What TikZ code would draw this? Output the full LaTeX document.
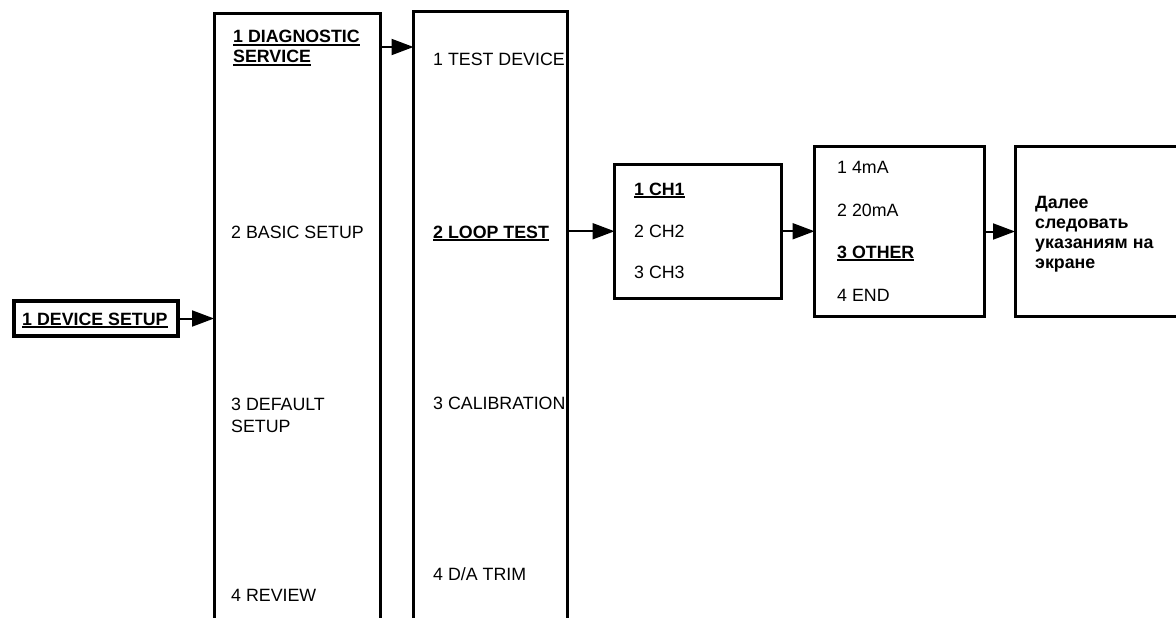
\documentclass[tikz,border=0pt]{standalone}
\usepackage{fontspec}
\setmainfont{Liberation Sans}
\usetikzlibrary{arrows.meta}
\newcommand\myul[1]{\setbox0\hbox{#1}\rlap{\rule[-3pt]{\wd0}{1.6pt}}\box0}
\tikzset{
  box/.style={draw, line width=3pt, inner sep=0pt, outer sep=0pt},
  txt/.style={anchor=base west, inner sep=0pt, font=\fontsize{17.8}{20}\selectfont},
  btxt/.style={txt, font=\fontsize{17.8}{20}\selectfont\bfseries},
  arr/.style={line width=2pt, -{Triangle[length=22pt,width=16pt]}}
}
\begin{document}
\begin{tikzpicture}[x=1pt,y=-1pt]
\useasboundingbox (0,0) rectangle (1176,618);
\clip (0,0) rectangle (1176,618);
% boxes
\node[box, line width=4.5pt, minimum width=164pt, minimum height=35pt] (A) at (96,318.5) {};
\node[box, minimum width=166pt, minimum height=640pt] (B) at (297,333.5) {};
\node[box, minimum width=153.5pt, minimum height=640pt] (C) at (490.25,331.5) {};
\node[box, minimum width=166.5pt, minimum height=133.5pt] (D) at (614.5+83.25,231.25) {};
\node[box, minimum width=169.5pt, minimum height=170pt] (E) at (899.25,231.5) {};
\node[box, minimum width=164pt, minimum height=170pt] (F) at (1097,231.5) {};
% texts
\node[btxt] (a1) at (22,325) {\myul{1 DEVICE SETUP}};
\node[btxt] (b1) at (233,43) {\myul{1 DIAGNOSTIC}};
\node[btxt] (b1b) at (233,63) {\myul{SERVICE}};
\node[txt] (b2) at (231,238) {2 BASIC SETUP};
\node[txt] (b3) at (231,410) {3 DEFAULT};
\node[txt] (b3b) at (231,432) {SETUP};
\node[txt] (b4) at (231,601) {4 REVIEW};
\node[txt] (c1) at (433,66) {1 TEST DEVICE};
\node[btxt] (c2) at (433,238) {\myul{2 LOOP TEST}};
\node[txt] (c3) at (433,409) {3 CALIBRATION};
\node[txt] (c4) at (433,580) {4 D/A TRIM};
\node[btxt] (d1) at (634,195) {\myul{1 CH1}};
\node[txt] (d2) at (634,237) {2 CH2};
\node[txt] (d3) at (634,278) {3 CH3};
\node[txt] (e1) at (837,173) {1 4mA};
\node[txt] (e2) at (837,216) {2 20mA};
\node[btxt] (e3) at (837,258) {\myul{3 OTHER}};
\node[txt] (e4) at (837,301) {4 END};
\node[btxt] (f1) at (1035,208) {Далее};
\node[btxt] (f2) at (1035,228) {следовать};
\node[btxt] (f3) at (1035,248) {указаниям на};
\node[btxt] (f4) at (1035,268) {экране};
% connectors
\coordinate (bc) at (0,47);
\draw[arr] (A.east) -- (A.east -| B.west);
\draw[arr] (bc -| B.east) -- (bc -| C.west);
\draw[arr] (D.west -| C.east) -- (D.west);
\draw[arr] (D.east) -- (D.east -| E.west);
\draw[arr] (E.east) -- (F.west);
\end{tikzpicture}
\end{document}
